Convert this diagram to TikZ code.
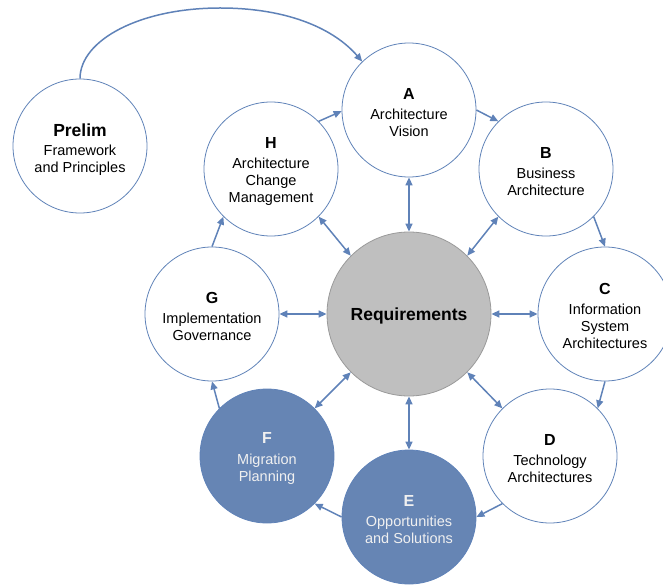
\documentclass[tikz,border=0pt]{standalone}
\usepackage{fontspec}
\setmainfont{Liberation Sans}
\usetikzlibrary{arrows.meta}
\definecolor{lineblue}{HTML}{5F82B8}
\definecolor{fillblue}{HTML}{6685B4}
\definecolor{reqgray}{HTML}{BFBFBF}
\definecolor{reqline}{HTML}{9A9A9A}
\newcommand\phasettl[1]{{\rule{0pt}{16pt}\fontsize{16}{17}\selectfont\bfseries #1}\\[3pt]}
\begin{document}
\begin{tikzpicture}[x=1pt,y=-1pt,
  phase/.style={circle,draw=lineblue,line width=0.8pt,fill=white,minimum size=134pt,inner sep=0pt,align=center,font=\fontsize{14.5}{17}\selectfont},
  dark/.style={phase,fill=fillblue,text=white!94!black},
  req/.style={circle,draw=reqline,line width=0.8pt,fill=reqgray,minimum size=164pt,inner sep=0pt,text depth=0pt,font=\fontsize{17.5}{20}\selectfont\bfseries},
  flow/.style={draw=lineblue,line width=1.5pt,-{Triangle[length=8pt,width=7pt]}},
  both/.style={draw=lineblue,line width=1.5pt,{Triangle[length=8pt,width=7pt]}-{Triangle[length=8pt,width=7pt]}},
]
\useasboundingbox (0,0) rectangle (663,585);
\node[req] (R) at (409,314) {Requirements};
\node[phase] (A) at (409,110) {\phasettl{A}Architecture\\Vision};
\node[phase] (B) at (546,169) {\phasettl{B}Business\\Architecture};
\node[phase] (C) at (605,314) {\phasettl{C}Information\\System\\Architectures};
\node[phase] (D) at (550,456) {\phasettl{D}Technology\\Architectures};
\node[dark] (E) at (409,517) {\phasettl{E}Opportunities\\and Solutions};
\node[dark] (F) at (267,456) {\phasettl{F}Migration\\Planning};
\node[phase] (G) at (212,314) {\phasettl{G}Implementation\\Governance};
\node[phase] (H) at (271,169) {\phasettl{H}Architecture\\Change\\Management};
\node[phase] (P) at (80,146) {{\rule{0pt}{20pt}\fontsize{17.5}{17}\selectfont\bfseries Prelim}\\[2pt]Framework\\and Principles};
% cycle
\draw[flow] (P.north) .. controls (80,40) and (140,8) .. (220,8) .. controls (290,8) and (335,30) .. (A.134);
\draw[flow] (H.45) -- (A.181);
\draw[flow] (A.0) -- (B.135);
\draw[flow] (B.-45) -- (C.90);
\draw[flow] (C.-90) -- (D.45);
\draw[flow] (D.225) -- (E.0);
\draw[flow] (E.180) -- (F.-45);
\draw[flow] (F.135) -- (G.270);
\draw[flow] (G.90) -- (H.225);
% requirements
\draw[both] (R.90) -- (A.270);
\draw[both] (R.45) -- (B.225);
\draw[both] (R.0) -- (C.180);
\draw[both] (R.-45) -- (D.135);
\draw[both] (R.270) -- (E.90);
\draw[both] (R.225) -- (F.45);
\draw[both] (R.180) -- (G.0);
\draw[both] (R.135) -- (H.315);
\end{tikzpicture}
\end{document}
